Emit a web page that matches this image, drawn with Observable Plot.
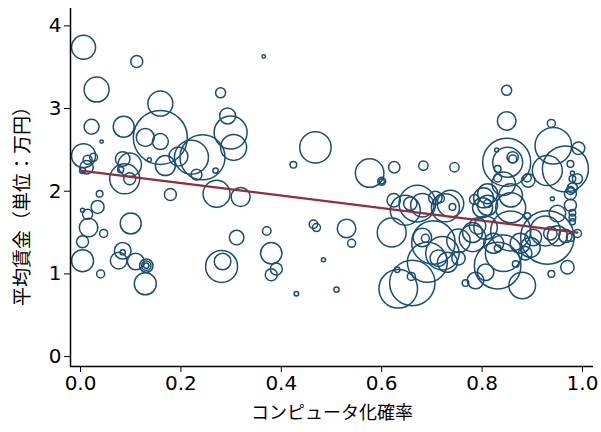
<!DOCTYPE html>
<html>
<head>
<meta charset="utf-8">
<script src="https://cdn.jsdelivr.net/npm/d3@7"></script>
<script src="https://cdn.jsdelivr.net/npm/@observablehq/plot@0.6"></script>
<style>
  html, body { margin: 0; padding: 0; background: #fff; }
</style>
</head>
<body>
<div id="chart"></div>
<script>
// コンピュータ化確率 (probability of computerisation)
const prob = [
  0.006,0.112,0.032,0.279,0.159,0.293,0.022,0.086,0.159,0.129,0.159,0.042,0.299,0.305,0.243,0.221,0.195,0.006,0.014,0.026,
  0.012,0.084,0.098,0.137,0.169,0.088,0.098,0.231,0.269,0.179,0.271,0.319,0.080,0.038,0.004,0.034,0.004,0.014,0.100,0.016,
  0.046,0.004,0.004,0.084,0.084,0.076,0.110,0.131,0.131,0.131,0.040,0.129,0.281,0.283,0.365,0.468,0.424,0.576,0.600,0.600,
  0.625,0.311,0.371,0.464,0.470,0.530,0.540,0.620,0.380,0.390,0.380,0.484,0.430,0.510,0.849,0.849,0.938,0.683,0.745,0.849,
  0.851,0.861,0.861,0.829,0.942,0.992,0.966,0.930,0.976,0.980,0.980,0.980,0.976,0.976,0.976,0.892,0.831,0.831,0.843,0.857,
  0.811,0.940,0.990,0.671,0.657,0.707,0.717,0.741,0.737,0.785,0.803,0.811,0.624,0.647,0.727,0.633,0.661,0.631,0.659,0.691,
  0.721,0.687,0.681,0.713,0.731,0.703,0.753,0.767,0.787,0.681,0.781,0.781,0.791,0.801,0.753,0.990,0.980,0.980,0.980,0.950,
  0.890,0.930,0.926,0.950,0.970,0.938,0.880,0.831,0.843,0.857,0.867,0.807,0.823,0.831,0.876,0.896,0.902,0.857,0.807,0.811,
  0.936,0.966,0.886,0.976,0.890
];
// 平均賃金（万円） (average wage)
const wage = [
  3.74,3.57,3.23,3.19,3.06,2.91,2.78,2.78,2.65,2.65,2.60,2.60,2.71,2.53,2.41,2.41,2.42,2.43,2.38,2.41,
  2.29,2.39,2.32,2.38,2.31,2.15,2.15,2.20,2.25,1.96,1.97,1.93,2.26,1.97,2.25,1.81,1.77,1.72,1.61,1.56,
  1.49,1.39,1.16,1.28,1.26,1.16,1.15,1.10,1.10,1.10,1.00,0.88,1.09,1.15,3.63,2.53,2.32,2.22,2.12,2.12,
  2.29,1.44,1.52,1.60,1.56,1.55,1.37,1.50,1.25,1.06,0.99,1.17,0.76,0.81,3.22,2.85,2.82,2.31,2.29,2.35,
  2.35,2.41,2.39,2.50,2.55,2.52,2.27,2.25,2.33,2.22,2.15,2.04,1.97,2.01,1.83,2.13,2.27,2.16,2.09,1.95,
  1.97,1.91,2.15,1.85,1.85,1.92,1.91,1.81,1.85,1.90,1.92,1.85,1.89,1.77,1.80,0.82,0.89,1.05,0.97,1.14,
  1.25,1.43,1.44,1.19,1.14,1.38,1.19,0.89,0.92,1.83,1.50,1.43,1.58,1.80,1.40,1.49,1.74,1.68,1.63,1.73,
  1.70,1.44,1.52,1.46,1.08,1.00,0.86,1.10,1.25,1.52,1.12,1.02,1.37,1.31,1.37,1.32,1.44,1.80,1.56,1.83,
  1.49,1.46,1.25,1.44,2.16
];
// 就業者数 (employment, bubble size)
const employ = [
  144,36,156,25,156,64,56,110,729,81,64,3,272,169,506,289,90,144,20,16,
  45,53,137,4,100,225,36,30,7,36,182,90,9,11,9,42,4,25,110,86,
  16,36,121,69,7,69,69,45,22,7,16,121,256,69,3,246,11,204,16,7,
  32,53,18,18,16,86,16,210,114,36,36,4,5,7,25,86,16,22,22,576,
  225,32,16,4,335,40,529,225,11,4,11,25,36,16,36,45,11,16,137,137,
  100,4,25,335,45,45,16,11,177,25,100,16,45,225,196,372,515,7,16,400,
  279,16,86,69,100,471,45,11,69,137,100,177,69,100,137,16,11,11,9,69,
  11,713,225,100,45,11,177,543,335,400,11,69,100,11,100,100,69,225,137,100,
  45,45,45,16,16
];
// regression line endpoints
const regX = [0.0, 0.99];
const regY = [2.25, 1.50];

const xTicks = [0, 0.2, 0.4, 0.6, 0.8, 1.0];
const yTicks = [0, 1, 2, 3, 4];

const data = prob.map((p, i) => ({x: p, y: wage[i], v: employ[i]}));
const reg = regX.map((x, i) => ({x, y: regY[i]}));

const xDomain = [-0.02, 1.022];
const yDomain = [-0.12, 4.21];

const chart = Plot.plot({
  width: 601,
  height: 432,
  marginLeft: 70,
  marginRight: 8,
  marginTop: 8,
  marginBottom: 66,
  style: {fontFamily: "'DejaVu Sans', 'Noto Sans CJK JP', sans-serif", color: "#000", background: "#fff"},
  x: {domain: xDomain},
  y: {domain: yDomain},
  r: {type: "sqrt", domain: [0, 729], range: [0, 27]},
  marks: [
    Plot.dot(data, {x: "x", y: "y", r: "v", stroke: "#1a4d75", fill: "none", strokeWidth: 1.5}),
    Plot.line(reg, {x: "x", y: "y", stroke: "#8e2e37", strokeWidth: 2.2}),
    Plot.ruleX([xDomain[0]], {stroke: "#000", strokeWidth: 1.5}),
    Plot.ruleY([yDomain[0]], {stroke: "#000", strokeWidth: 1.5}),
    Plot.axisX({ticks: xTicks, tickFormat: d3.format(".1f"), tickSize: 6, tickPadding: 3, fontSize: 20, label: null, stroke: "#000"}),
    Plot.axisY({ticks: yTicks, tickFormat: d3.format("d"), tickSize: 6, tickPadding: 3, fontSize: 20, label: null, stroke: "#000"}),
    Plot.text(["コンピュータ化確率"], {frameAnchor: "bottom", dy: 52, fontSize: 18, fontFamily: "'Noto Sans CJK JP', sans-serif", fill: "#000"}),
    Plot.text(["平均賃金（単位：万円）"], {frameAnchor: "left", textAnchor: "middle", rotate: -90, dx: -48, dy: 14, fontSize: 19, fontFamily: "'Noto Sans CJK JP', sans-serif", fill: "#000"})
  ]
});
document.getElementById("chart").appendChild(chart);
</script>
</body>
</html>
